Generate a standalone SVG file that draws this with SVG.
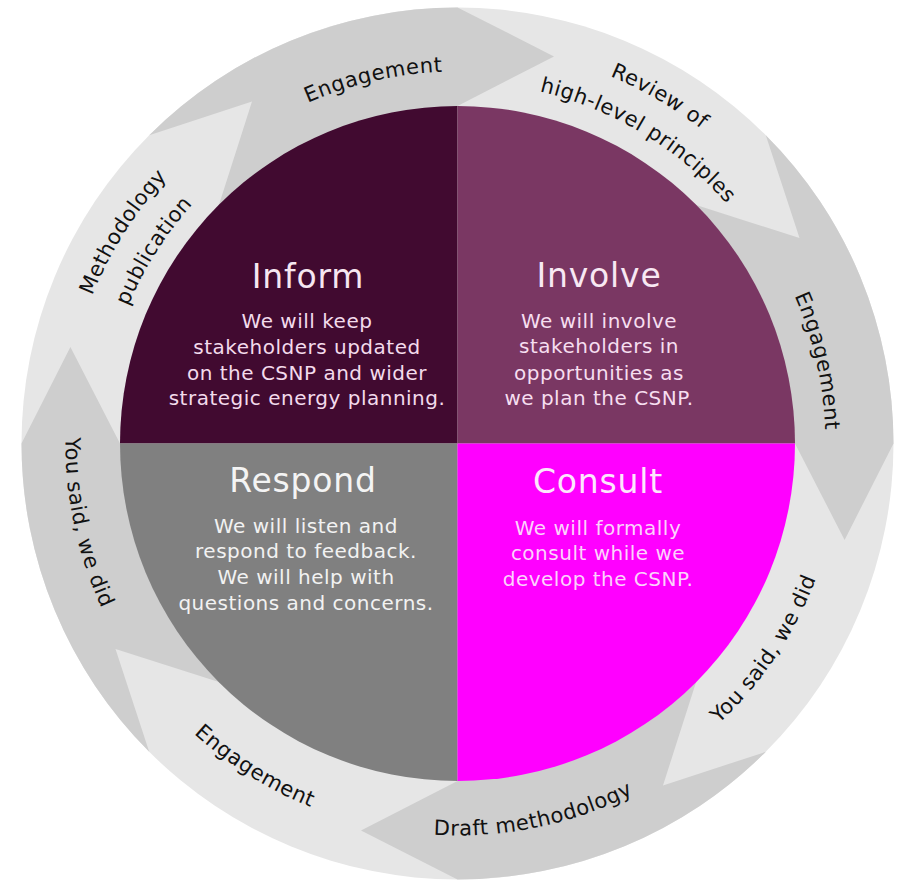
<svg xmlns="http://www.w3.org/2000/svg" xmlns:xlink="http://www.w3.org/1999/xlink" width="905" height="882" viewBox="0 0 905 882">
<style>
.light{fill:#e6e6e6}
.dark{fill:#cecece}
.lbl{font-family:"DejaVu Sans","Liberation Sans",sans-serif;font-size:21px;letter-spacing:0.5px;fill:#111}
.title{font-family:"DejaVu Sans","Liberation Sans",sans-serif;font-size:33px;letter-spacing:0.8px;text-anchor:middle}
.body{font-family:"DejaVu Sans","Liberation Sans",sans-serif;font-size:20px;letter-spacing:0.5px;text-anchor:middle}
</style>
<defs>
<path id="pEngTop" d="M 160.4 219.6 A 372 372 0 0 1 626.4 112.0"/>
<path id="pReview" d="M 389.6 51.4 A 398 398 0 0 1 831.9 308.9"/>
<path id="pHigh" d="M 400.0 86.2 A 360 360 0 0 1 797.1 324.8"/>
<path id="pEngRight" d="M 679.5 150.0 A 368 368 0 0 1 785.1 611.1"/>
<path id="pYouRight" d="M 564.4 811.3 A 383 383 0 0 0 838.3 402.1"/>
<path id="pDraft" d="M 271.1 788.3 A 392 392 0 0 0 764.7 687.0"/>
<path id="pEngLeft" d="M 84.5 564.0 A 392 392 0 0 0 511.4 831.8"/>
<path id="pYouLeft" d="M 111.4 259.5 A 392 392 0 0 0 216.1 752.4"/>
<path id="pMeth" d="M 67.0 496.3 A 394 394 0 0 1 337.7 68.1"/>
<path id="pPub" d="M 103.7 490.7 A 357 357 0 0 1 349.5 103.2"/>
</defs>
<g id="ring">
<circle class="light" cx="457.5" cy="443.5" r="436"/>
<path class="dark" d="M 149.2 135.2 A 436 436 0 0 1 457.5 7.5 L 554.0 56.4 L 457.5 106 L 457.5 443.5 L 218.9 204.9 L 252.0 101.5 Z"/>
<path class="dark" d="M 765.8 135.2 A 436 436 0 0 1 893.5 443.5 L 844.6 540.0 L 795 443.5 L 457.5 443.5 L 696.1 204.9 L 799.5 238.0 Z"/>
<path class="dark" d="M 765.8 751.8 A 436 436 0 0 1 457.5 879.5 L 361.0 830.6 L 457.5 781 L 457.5 443.5 L 696.1 682.1 L 663.0 785.5 Z"/>
<path class="dark" d="M 149.2 751.8 A 436 436 0 0 1 21.5 443.5 L 70.4 347.0 L 120 443.5 L 457.5 443.5 L 218.9 682.1 L 115.5 649.0 Z"/>
</g>
<g id="ring-labels">
<g id="lbl-engagement-top"><text class="lbl" text-anchor="middle"><textPath href="#pEngTop" xlink:href="#pEngTop" startOffset="50%">Engagement</textPath></text></g>
<g id="lbl-review"><text class="lbl" text-anchor="middle"><textPath href="#pReview" xlink:href="#pReview" startOffset="50%">Review of</textPath><textPath href="#pHigh" xlink:href="#pHigh" startOffset="50%">high-level principles</textPath></text></g>
<g id="lbl-engagement-right"><text class="lbl" text-anchor="middle"><textPath href="#pEngRight" xlink:href="#pEngRight" startOffset="50%">Engagement</textPath></text></g>
<g id="lbl-yousaid-right"><text class="lbl" text-anchor="middle"><textPath href="#pYouRight" xlink:href="#pYouRight" startOffset="50%">You said, we did</textPath></text></g>
<g id="lbl-draft"><text class="lbl" text-anchor="middle"><textPath href="#pDraft" xlink:href="#pDraft" startOffset="50%">Draft methodology</textPath></text></g>
<g id="lbl-engagement-left"><text class="lbl" text-anchor="middle"><textPath href="#pEngLeft" xlink:href="#pEngLeft" startOffset="50%">Engagement</textPath></text></g>
<g id="lbl-yousaid-left"><text class="lbl" text-anchor="middle"><textPath href="#pYouLeft" xlink:href="#pYouLeft" startOffset="50%">You said, we did</textPath></text></g>
<g id="lbl-methodology"><text class="lbl" text-anchor="middle"><textPath href="#pMeth" xlink:href="#pMeth" startOffset="50%">Methodology</textPath><textPath href="#pPub" xlink:href="#pPub" startOffset="50%">publication</textPath></text></g>
</g>
<g id="inform">
<path d="M 457.5 443.5 L 120 443.5 A 337.5 337.5 0 0 1 457.5 106 Z" fill="#410a30"/>
<text class="title" x="308" y="288" fill="#f6e6f1">Inform</text>
<text class="body" fill="#f3dbec"><tspan x="307" y="328">We will keep</tspan><tspan x="307" y="354">stakeholders updated</tspan><tspan x="307" y="380">on the CSNP and wider</tspan><tspan x="307" y="405">strategic energy planning.</tspan></text>
</g>
<g id="involve">
<path d="M 457.5 443.5 L 457.5 106 A 337.5 337.5 0 0 1 795 443.5 Z" fill="#7a3763"/>
<text class="title" x="599" y="287" fill="#f8e8f3">Involve</text>
<text class="body" fill="#f6def0"><tspan x="599" y="328">We will involve</tspan><tspan x="599" y="353">stakeholders in</tspan><tspan x="599" y="380">opportunities as</tspan><tspan x="599" y="405">we plan the CSNP.</tspan></text>
</g>
<g id="respond">
<path d="M 457.5 443.5 L 457.5 781 A 337.5 337.5 0 0 1 120 443.5 Z" fill="#808080"/>
<text class="title" x="303" y="492" fill="#f4f4f4">Respond</text>
<text class="body" fill="#f2f2f2"><tspan x="306" y="533">We will listen and</tspan><tspan x="306" y="558">respond to feedback.</tspan><tspan x="306" y="584">We will help with</tspan><tspan x="306" y="610">questions and concerns.</tspan></text>
</g>
<g id="consult">
<path d="M 457.5 443.5 L 795 443.5 A 337.5 337.5 0 0 1 457.5 781 Z" fill="#ff00ff"/>
<text class="title" x="598" y="493" fill="#fde6fd">Consult</text>
<text class="body" fill="#fcd2fc"><tspan x="598" y="535">We will formally</tspan><tspan x="598" y="560">consult while we</tspan><tspan x="598" y="586">develop the CSNP.</tspan></text>
</g>
</svg>
